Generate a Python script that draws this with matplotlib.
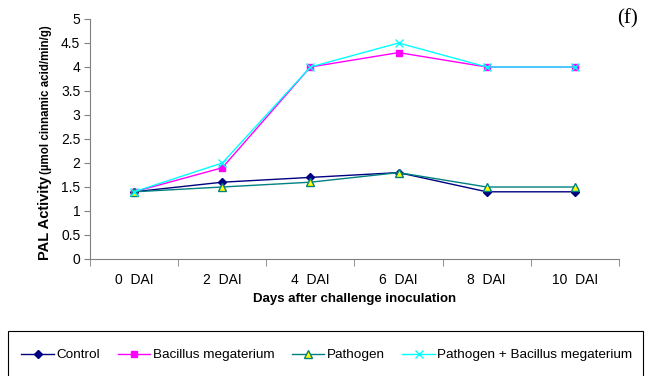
import matplotlib.pyplot as plt
from matplotlib.patches import Rectangle

plt.rcParams['font.family'] = ['Liberation Sans', 'DejaVu Sans']

# PAL activity readings
days = ['0  DAI', '2  DAI', '4  DAI', '6  DAI', '8  DAI', '10  DAI']
control = [1.4, 1.6, 1.7, 1.8, 1.4, 1.4]
bacillus = [1.4, 1.9, 4.0, 4.3, 4.0, 4.0]
pathogen = [1.4, 1.5, 1.6, 1.8, 1.5, 1.5]
path_bacillus = [1.4, 2.0, 4.0, 4.5, 4.0, 4.0]

fig = plt.figure(figsize=(6.46, 3.76), dpi=100)
ax = fig.add_axes([90 / 646, 1 - 259 / 376, 529 / 646, 240 / 376])

x = list(range(len(days)))
ax.plot(x, control, color='#000080', marker='D', markersize=4, lw=1, label='Control')
ax.plot(x, bacillus, color='#FF00FF', marker='s', markersize=4.5, lw=1, label='Bacillus megaterium')
ax.plot(x, pathogen, color='#008080', marker='^', markersize=5.5, lw=1,
        markerfacecolor='#FFFF00', markeredgecolor='#008080', label='Pathogen')
ax.plot(x, path_bacillus, color='#00FFFF', marker='x', markersize=6, lw=1,
        label='Pathogen + Bacillus megaterium')

ax.set_xlim(-0.5, len(days) - 0.5)
ax.set_ylim(0, 5)
ax.set_yticks([0, 0.5, 1, 1.5, 2, 2.5, 3, 3.5, 4, 4.5, 5])
ax.set_yticklabels(['0', '0.5', '1', '1.5', '2', '2.5', '3', '3.5', '4', '4.5', '5'])
ax.set_xticks(x)
ax.set_xticklabels(days)
ax.set_xticks([i - 0.5 for i in range(len(days) + 1)], minor=True)
ax.tick_params(axis='x', which='major', length=0, pad=10, labelsize=10)
ax.tick_params(axis='x', which='minor', length=5, direction='out', color='#808080')
ax.tick_params(axis='y', length=4, direction='out', color='#808080', labelsize=10, pad=3)

for s in ['top', 'right']:
    ax.spines[s].set_visible(False)
for s in ['left', 'bottom']:
    ax.spines[s].set_color('#808080')

fig.text(355 / 646, 1 - 299 / 376, 'Days after challenge inoculation', ha='center', va='center',
         fontsize=9.5, fontweight='bold')
fig.text(45 / 646, 1 - 218 / 376, 'PAL Activity', rotation=90, ha='center', va='center',
         fontsize=10.5, fontweight='bold')
fig.text(46 / 646, 1 - 100 / 376, '(µmol cinnamic acid/min/g)', rotation=90, ha='center', va='center',
         fontsize=8.3, fontweight='bold')
fig.text(617 / 646, 1 - 19 / 376, '(f)', ha='left', va='center', fontsize=15,
         family='Liberation Serif')

fig.patches.append(Rectangle((8 / 646, -0.01), 635 / 646, (376 - 331) / 376 + 0.01,
                             transform=fig.transFigure, fill=False, edgecolor='black', lw=0.8))
fig.legend(loc='center', bbox_to_anchor=(327 / 646, 21 / 376), ncol=4, frameon=False,
           fontsize=9.7, handlelength=2.4, handletextpad=0.2, columnspacing=1.3)

fig.savefig('out.png', dpi=100)
